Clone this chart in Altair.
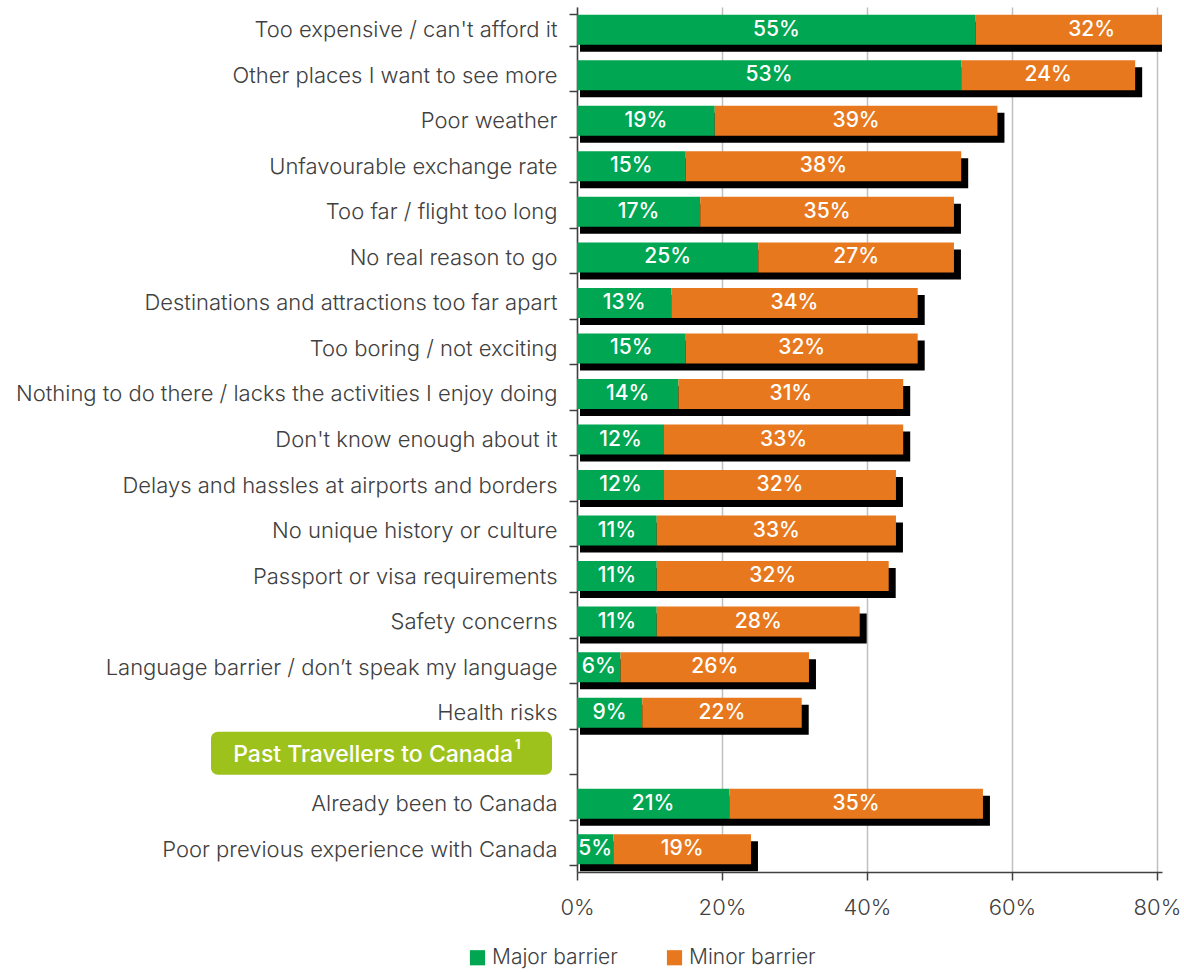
import altair as alt
import pandas as pd

HEADER = "Past Travellers to Canada"

categories = [
    "Too expensive / can't afford it",
    "Other places I want to see more",
    "Poor weather",
    "Unfavourable exchange rate",
    "Too far / flight too long",
    "No real reason to go",
    "Destinations and attractions too far apart",
    "Too boring / not exciting",
    "Nothing to do there / lacks the activities I enjoy doing",
    "Don't know enough about it",
    "Delays and hassles at airports and borders",
    "No unique history or culture",
    "Passport or visa requirements",
    "Safety concerns",
    "Language barrier / don\u2019t speak my language",
    "Health risks",
    HEADER,
    "Already been to Canada",
    "Poor previous experience with Canada",
]
major = [55, 53, 19, 15, 17, 25, 13, 15, 14, 12, 12, 11, 11, 11, 6, 9, None, 21, 5]
minor = [32, 24, 39, 38, 35, 27, 34, 32, 31, 33, 32, 33, 32, 28, 26, 22, None, 35, 19]
series = ["Major barrier", "Minor barrier"]
colors = ["#00A651", "#E8781E"]

rows = []
tot = []
for c, a, b in zip(categories, major, minor):
    if a is None:
        continue
    rows.append({"cat": c, "type": series[0], "start": 0, "end": a, "mid": a / 2, "label": f"{a}%"})
    rows.append({"cat": c, "type": series[1], "start": a, "end": a + b, "mid": a + b / 2, "label": f"{b}%"})
    tot.append({"cat": c, "start": 0, "total": a + b})
seg = pd.DataFrame(rows)
tots = pd.DataFrame(tot)
hdr = pd.DataFrame({"cat": [HEADER], "label": [HEADER], "sup": ["1"]})

FONT = "Inter"
LIGHT = 300

yenc = alt.Y(
    "cat:N",
    sort=categories,
    scale=alt.Scale(domain=categories),
    title=None,
    axis=alt.Axis(
        labelExpr=f"datum.value == '{HEADER}' ? '' : datum.value",
        tickBand="extent",
        tickSize=8,
        tickColor="#404040",
        tickWidth=1.5,
        domainColor="#404040",
        domainWidth=1.5,
        labelPadding=12,
        labelFontSize=22,
        labelFontWeight=LIGHT,
        labelColor="#404040",
        labelFont=FONT,
        labelLimit=600,
        grid=False,
    ),
)

xscale = alt.Scale(domain=[0, 80.7], nice=False, zero=True)
xaxis = alt.Axis(
    values=[0, 20, 40, 60, 80],
    labelExpr="datum.value + '%'",
    labelFlush=False,
    tickSize=8,
    tickColor="#404040",
    tickWidth=1.5,
    domainColor="#404040",
    domainWidth=1.5,
    gridColor="#C0C0C0",
    gridWidth=1.5,
    labelFontSize=22,
    labelFontWeight=LIGHT,
    labelColor="#404040",
    labelFont=FONT,
    labelPadding=17,
    title=None,
)

base_seg = alt.Chart(seg)

shadow = alt.Chart(tots).mark_bar(
    color="black", size=30, xOffset=3, x2Offset=7, yOffset=7, clip=True
).encode(
    y=yenc,
    x=alt.X("start:Q", scale=xscale, axis=xaxis),
    x2="total:Q",
)

bars = base_seg.mark_bar(size=30, clip=True).encode(
    y=alt.Y("cat:N", sort=categories),
    x=alt.X("start:Q"),
    x2="end:Q",
    color=alt.Color(
        "type:N",
        scale=alt.Scale(domain=series, range=colors),
        legend=alt.Legend(
            title=None,
            orient="none",
            direction="horizontal",
            legendX=-110,
            legendY=940,
            symbolType="square",
            symbolSize=230,
            symbolStrokeWidth=0,
            labelFontSize=21,
            labelFontWeight=LIGHT,
            labelColor="#404040",
            labelFont=FONT,
            columnPadding=46,
            labelOffset=4,
        ),
    ),
)

labels = base_seg.mark_text(
    color="white", fontSize=21, fontWeight=500, font=FONT, baseline="middle", align="center"
).encode(
    y=alt.Y("cat:N", sort=categories),
    x=alt.X("mid:Q"),
    text="label:N",
)

hdr_box = alt.Chart(hdr).mark_bar(
    color="#9DC21B", size=43, cornerRadius=7, yOffset=-5
).encode(
    y=alt.Y("cat:N", sort=categories),
    x=alt.value(-366),
    x2=alt.value(-25),
)

hdr_text = alt.Chart(hdr).mark_text(
    color="white", fontSize=23, fontWeight=500, font=FONT, align="right", baseline="middle",
    yOffset=-3,
).encode(
    y=alt.Y("cat:N", sort=categories),
    x=alt.value(-64),
    text="label:N",
)

hdr_sup = alt.Chart(hdr).mark_text(
    color="white", fontSize=13, fontWeight=700, font=FONT, align="left", baseline="middle",
    yOffset=-13,
).encode(
    y=alt.Y("cat:N", sort=categories),
    x=alt.value(-62),
    text="sup:N",
)

chart = alt.layer(shadow, bars, labels, hdr_box, hdr_text, hdr_sup).properties(
    width=585,
    height=865,
    autosize=alt.AutoSizeParams(type="none"),
    padding={"left": 577, "top": 7, "right": 22, "bottom": 100},
).configure_view(stroke=None).configure_scale(bandPaddingInner=0.3)

chart.save("out.html", embed_options={"renderer": "svg", "actions": False})
